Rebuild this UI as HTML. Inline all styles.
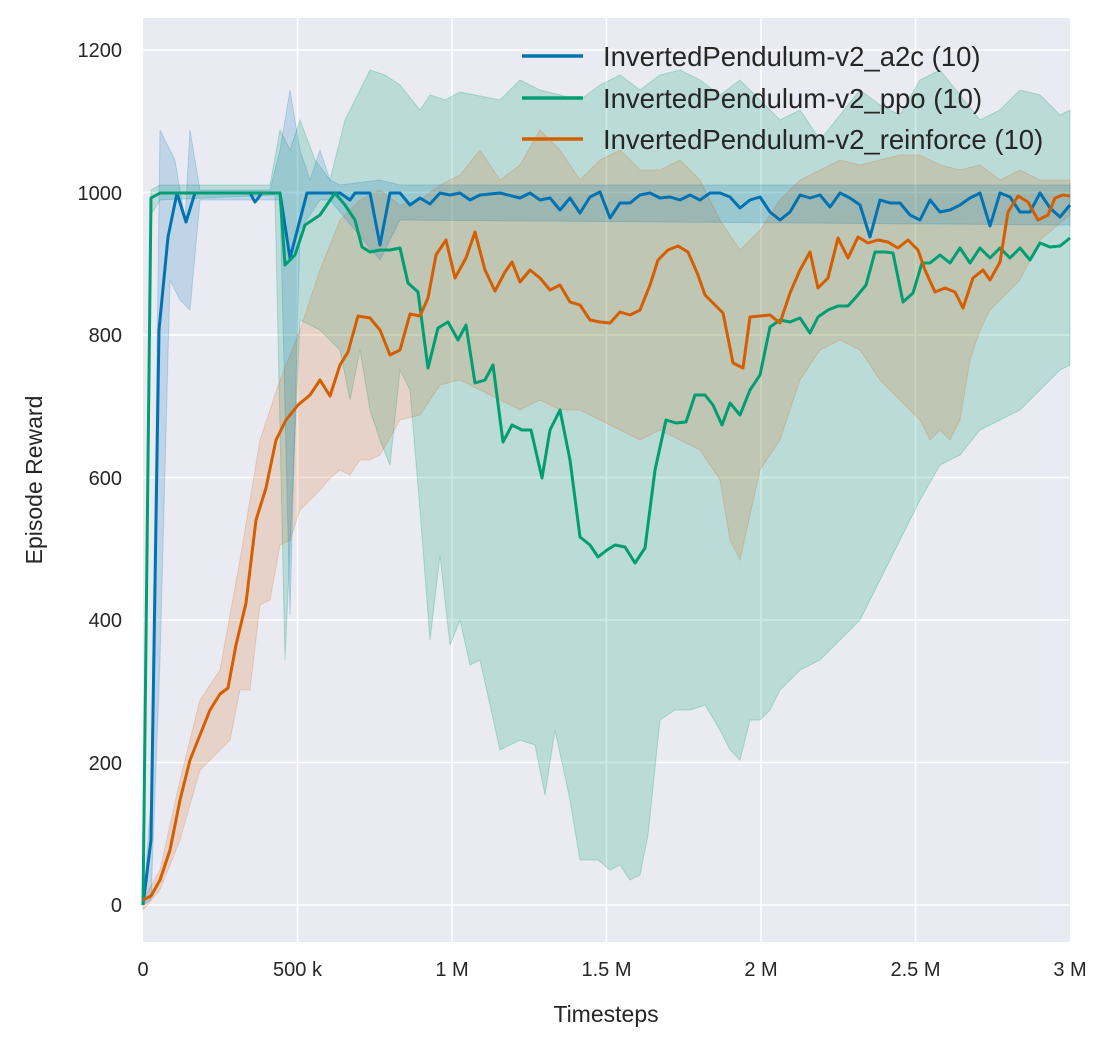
<!DOCTYPE html>
<html><head><meta charset="utf-8"><style>
html,body{margin:0;padding:0;background:#fff;}
svg{display:block;font-family:"Liberation Sans",Arial,sans-serif;}
</style></head><body>
<svg width="1114" height="1049" viewBox="0 0 1114 1049">
<rect x="143" y="18" width="927" height="924" fill="#eaeaf2"/>
<g stroke="#fff" stroke-width="1.6">
<line x1="143" y1="50" x2="1070" y2="50"/><line x1="143" y1="192.5" x2="1070" y2="192.5"/>
<line x1="143" y1="335" x2="1070" y2="335"/><line x1="143" y1="477.5" x2="1070" y2="477.5"/>
<line x1="143" y1="620" x2="1070" y2="620"/><line x1="143" y1="762.5" x2="1070" y2="762.5"/>
<line x1="143" y1="905" x2="1070" y2="905"/>
<line x1="297.5" y1="18" x2="297.5" y2="942"/><line x1="452" y1="18" x2="452" y2="942"/>
<line x1="606.5" y1="18" x2="606.5" y2="942"/><line x1="761" y1="18" x2="761" y2="942"/>
<line x1="915.5" y1="18" x2="915.5" y2="942"/>
</g>
<polygon fill="#029e73" fill-opacity="0.2" stroke="#029e73" stroke-opacity="0.25" points="143,905 151,190 160,185 270,185 280,130 290,150 300,120 315,160 330,180 345,120 360,90 370,70 385,75 400,85 420,110 430,95 445,100 460,92 475,95 500,100 520,80 540,90 560,95 580,100 600,85 620,75 640,90 660,75 680,70 700,80 720,95 740,80 760,100 780,120 800,110 820,140 840,115 860,90 880,105 900,115 920,80 940,70 960,95 980,120 1000,110 1020,90 1040,95 1060,115 1070,110 1070,365 1060,370 1040,390 1020,410 1000,420 980,430 960,455 940,465 920,500 900,540 880,580 860,620 840,640 820,660 800,670 790,680 780,690 770,710 760,720 750,720 740,760 730,750 720,730 705,705 690,710 675,710 660,720 648,835 640,875 630,880 620,865 610,870 598,860 580,860 570,800 555,730 545,795 535,745 520,740 500,750 480,660 470,665 460,620 450,645 440,555 430,640 420,510 410,390 400,370 390,465 380,440 370,410 360,350 350,400 340,350 320,330 300,320 285,660 275,195 160,200 151,215"/>
<polygon fill="#d55e00" fill-opacity="0.17" stroke="#d55e00" stroke-opacity="0.2" points="143,900 160,870 180,780 200,700 220,670 240,560 260,440 280,380 300,330 320,270 340,220 360,200 380,190 400,205 420,200 440,185 460,175 480,150 500,180 520,165 540,130 560,150 580,180 600,160 620,150 640,170 660,170 680,160 700,180 720,220 740,250 760,230 780,200 800,180 820,170 840,160 860,165 880,160 900,155 920,155 940,165 960,170 980,165 1000,180 1020,170 1040,180 1060,180 1070,180 1070,215 1040,240 1020,280 1000,300 990,310 980,330 970,360 960,420 950,440 940,430 930,440 920,420 900,400 880,380 860,350 840,340 820,350 800,380 780,440 760,470 740,560 730,540 720,480 700,450 680,440 660,430 640,440 620,430 600,420 580,410 560,410 540,400 520,410 500,400 480,390 460,380 440,385 420,415 400,420 380,455 370,460 360,460 350,475 340,470 330,478 320,490 310,500 300,510 290,540 280,545 270,600 260,605 250,690 240,690 230,740 220,750 200,770 180,840 160,890 143,910"/>
<polygon fill="#0173b2" fill-opacity="0.18" stroke="#0173b2" stroke-opacity="0.2" points="143,905 151,800 160,130 175,160 185,220 190,130 200,190 270,190 280,150 290,90 300,150 310,180 320,150 330,180 340,185 380,180 400,185 1070,185 1070,225 400,220 380,260 330,200 320,200 300,230 290,615 280,200 200,200 190,310 180,300 170,280 160,660 151,900"/>
<g fill="none" stroke-width="3" stroke-linejoin="round">
<polyline stroke="#0173b2" points="143,905 151,840 159,330 168,237 177,193 186,222 195,193 250,193 255,202 262,193 280,193 290,258 307,193 330,193 340,193 350,200 355,193 370,193 380,245 390,193 400,193 410,205 420,198 430,204 440,193 450,195 460,193 470,200 480,195 500,193 520,198 530,193 540,200 550,198 560,210 570,198 580,213 590,197 600,192 610,218 620,203 630,203 640,195 650,193 660,198 670,197 680,200 690,195 700,200 710,193 720,193 730,197 740,208 750,200 760,197 770,212 780,220 790,212 800,195 810,198 820,195 830,207 840,193 850,198 860,205 870,237 880,200 890,203 900,203 910,215 920,220 930,200 940,212 950,210 960,205 970,198 980,193 990,226 1000,193 1010,197 1020,212 1030,212 1040,193 1050,208 1060,217 1070,205"/>
<polyline stroke="#029e73" points="143,905 151,198 160,193 280,193 285,265 295,255 305,225 320,215 335,193 345,205 355,220 362,247 370,252 380,250 390,250 400,248 408,283 418,292 428,368 438,328 448,322 458,340 466,325 475,383 485,380 493,365 503,442 512,425 522,430 531,430 542,478 550,430 560,410 570,460 580,537 590,545 598,557 607,550 615,545 625,547 635,563 645,548 655,470 666,420 676,423 686,422 695,395 705,395 713,405 722,425 730,403 740,415 750,390 760,375 770,327 780,320 790,322 800,318 810,333 818,317 828,310 838,306 848,306 857,296 866,285 875,252 885,252 893,253 903,302 913,293 922,263 930,263 940,255 950,263 960,248 970,263 980,248 990,258 1000,248 1010,258 1020,248 1030,260 1040,243 1050,247 1060,246 1070,238"/>
<polyline stroke="#d55e00" points="143,900 151,896 160,880 170,850 180,800 190,760 200,735 210,710 220,694 228,688 236,645 246,603 256,520 266,488 276,440 286,420 298,405 310,395 320,380 330,396 340,365 348,352 358,316 370,318 380,330 390,355 400,350 410,314 420,316 428,298 436,255 446,240 455,278 466,258 475,232 485,270 495,291 505,272 512,262 520,282 530,270 540,278 550,290 560,285 570,302 580,305 590,320 600,322 610,323 620,312 630,315 640,310 650,285 658,260 668,250 678,246 688,252 698,275 705,295 715,305 723,313 733,363 743,368 750,317 760,316 770,315 780,323 790,293 800,270 810,252 818,288 828,278 838,238 848,258 858,237 868,243 878,240 888,242 898,248 908,240 918,250 925,270 935,292 945,288 955,292 963,308 973,278 983,270 990,280 1000,262 1008,212 1018,196 1028,202 1038,220 1048,215 1055,198 1063,195 1070,196"/>
</g>
<g font-size="20" fill="#262626" text-anchor="end">
<text x="122" y="57">1200</text><text x="122" y="200">1000</text><text x="122" y="342">800</text>
<text x="122" y="485">600</text><text x="122" y="627">400</text><text x="122" y="770">200</text><text x="122" y="912">0</text>
</g>
<g font-size="20" fill="#262626" text-anchor="middle">
<text x="143" y="976">0</text><text x="297.5" y="976">500 k</text><text x="452" y="976">1 M</text>
<text x="606.5" y="976">1.5 M</text><text x="761" y="976">2 M</text><text x="915.5" y="976">2.5 M</text><text x="1070" y="976">3 M</text>
<text x="606" y="1022" font-size="23">Timesteps</text>
<text transform="translate(42,480) rotate(-90)" font-size="23">Episode Reward</text>
</g>
<g stroke-width="3.5">
<line x1="522" y1="56" x2="583" y2="56" stroke="#0173b2"/>
<line x1="522" y1="98" x2="583" y2="98" stroke="#029e73"/>
<line x1="522" y1="139" x2="583" y2="139" stroke="#d55e00"/>
</g>
<g font-size="27.5" fill="#262626">
<text x="603" y="66">InvertedPendulum-v2_a2c (10)</text>
<text x="603" y="108">InvertedPendulum-v2_ppo (10)</text>
<text x="603" y="149">InvertedPendulum-v2_reinforce (10)</text>
</g>
</svg>
</body></html>
